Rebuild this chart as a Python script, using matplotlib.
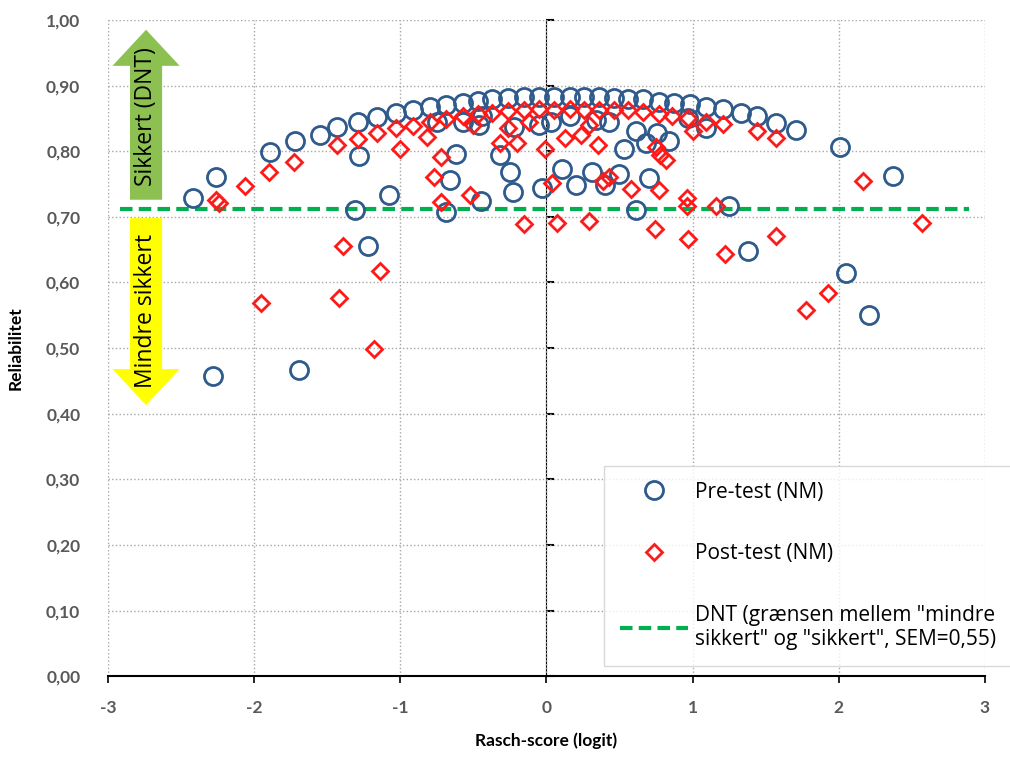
import matplotlib
matplotlib.use("Agg")
import matplotlib.pyplot as plt
import matplotlib.patches as patches
import numpy as np

# Pre-test (NM), blue circles
pre_x = [-1.89, -1.72, -1.55, -1.43, -1.29, -1.16, -1.03, -0.91, -0.80, -0.69, -0.57,
         -0.47, -0.37, -0.26, -0.15, -0.05, 0.05, 0.16, 0.26, 0.36, 0.46, 0.56, 0.66,
         0.77, 0.87, 0.98, 1.09, 1.21, 1.33, 1.44, 1.57, 1.71,
         -2.42, -2.26, -2.28, -1.69, -1.28, -1.31, -1.22, -1.08, -0.75, -0.62, -0.66,
         -0.69, -0.57, -0.46, -0.45, -0.44, -0.32, -0.25, -0.23, -0.22, -0.05, -0.03,
         0.03, 0.11, 0.16, 0.20, 0.31, 0.34, 0.43, 0.40, 0.50, 0.53, 0.61, 0.61, 0.68,
         0.70, 0.76, 0.84, 0.97, 1.09, 1.25, 1.38, 2.01, 2.37, 2.05, 2.21]
pre_y = [0.799, 0.815, 0.825, 0.837, 0.845, 0.852, 0.858, 0.863, 0.867, 0.870, 0.874,
         0.877, 0.879, 0.881, 0.882, 0.883, 0.883, 0.883, 0.883, 0.882, 0.881, 0.880, 0.879,
         0.875, 0.874, 0.872, 0.868, 0.864, 0.858, 0.853, 0.843, 0.833,
         0.728, 0.761, 0.457, 0.467, 0.792, 0.711, 0.655, 0.733, 0.845, 0.796, 0.756,
         0.708, 0.845, 0.840, 0.724, 0.853, 0.794, 0.769, 0.738, 0.837, 0.840, 0.744,
         0.845, 0.773, 0.853, 0.749, 0.769, 0.848, 0.845, 0.748, 0.765, 0.803, 0.830, 0.710, 0.812,
         0.759, 0.827, 0.815, 0.851, 0.835, 0.717, 0.648, 0.807, 0.762, 0.614, 0.550]

# Post-test (NM), red diamonds
post_x = [-1.43, -1.29, -1.16, -1.03, -0.91, -0.80, -0.69, -0.57, -0.47, -0.37, -0.26,
          -0.15, -0.05, 0.05, 0.16, 0.26, 0.36, 0.46, 0.56, 0.66, 0.77, 0.86, 0.97,
          1.09, 1.21, 1.44, 1.57,
          -2.26, -2.24, -2.06, -1.90, -1.73, -1.95, -1.39, -1.14, -1.42, -1.18, -1.00,
          -0.82, -0.72, -0.77, -0.72, -0.52, -0.50, -0.32, -0.20, -0.26, -0.12, -0.01,
          -0.15, 0.04, 0.07, 0.13, 0.24, 0.29, 0.35, 0.29, 0.39, 0.43, 0.58, 0.74, 0.75,
          0.78, 0.82, 0.77, 0.96, 0.96, 0.97, 1.00, 1.16, 1.22, 1.57, 1.78, 1.93, 2.17, 2.57]
post_y = [0.809, 0.819, 0.827, 0.835, 0.838, 0.845, 0.849, 0.853, 0.856, 0.858, 0.861,
          0.863, 0.864, 0.863, 0.864, 0.863, 0.863, 0.863, 0.862, 0.859, 0.857, 0.854, 0.850,
          0.845, 0.841, 0.830, 0.820,
          0.725, 0.721, 0.747, 0.769, 0.784, 0.568, 0.655, 0.618, 0.577, 0.498, 0.803,
          0.822, 0.791, 0.760, 0.722, 0.733, 0.840, 0.813, 0.812, 0.835, 0.845, 0.804,
          0.689, 0.751, 0.691, 0.820, 0.825, 0.840, 0.809, 0.694, 0.754, 0.761, 0.743, 0.681, 0.807,
          0.794, 0.787, 0.741, 0.729, 0.716, 0.666, 0.830, 0.716, 0.644, 0.671, 0.558, 0.584, 0.755, 0.690]

dnt_x = [-2.92, 2.89]
dnt_y = [0.712, 0.712]

x_ticks = [-3, -2, -1, 0, 1, 2, 3]
y_ticks = np.arange(0, 1.01, 0.1)
y_ticklabels = ["0,00", "0,10", "0,20", "0,30", "0,40", "0,50",
                "0,60", "0,70", "0,80", "0,90", "1,00"]

plt.rcParams["font.family"] = ["Lato", "DejaVu Sans"]
tick_color = "#595959"
body_font = ["Open Sans", "DejaVu Sans"]

fig = plt.figure(figsize=(10.1, 7.65), dpi=100)
ax = fig.add_axes([0.107, 0.116, 0.868, 0.858])

ax.set_xlim(-3, 3)
ax.set_ylim(0, 1)
ax.set_xticks(x_ticks)
ax.set_xticklabels([str(t) for t in x_ticks])
ax.set_yticks(y_ticks)
ax.set_yticklabels(y_ticklabels)
ax.grid(True, color="#a6a6a6", linestyle=":", lw=1)
ax.set_axisbelow(True)

for side in ["left", "top", "right"]:
    ax.spines[side].set_visible(False)
ax.spines["bottom"].set_color("black")
ax.spines["bottom"].set_linewidth(1.5)

ax.tick_params(axis="y", length=0, pad=20, labelsize=12.5, labelcolor=tick_color)
ax.tick_params(axis="x", length=5, width=1.2, pad=12, labelsize=12.5, labelcolor=tick_color)
for lab in ax.get_yticklabels() + ax.get_xticklabels():
    lab.set_fontweight("bold")

# vertical axis crossing at x = 0
sec = ax.secondary_yaxis(0.5)
sec.set_yticks(y_ticks)
sec.set_yticklabels([])
sec.spines["left"].set_linewidth(1.6)
sec.tick_params(axis="y", length=6, width=1.5, direction="out")

ax.set_ylabel("Reliabilitet", fontsize=12.5, fontweight="bold", labelpad=16)
ax.set_xlabel("Rasch-score (logit)", fontsize=12.5, fontweight="bold", labelpad=12)

# arrows
up = patches.FancyArrow(-2.74, 0.726, 0, 0.259, width=0.22, head_width=0.46,
                        head_length=0.055, length_includes_head=True,
                        color="#8cc152", lw=0, zorder=1)
down = patches.FancyArrow(-2.74, 0.698, 0, -0.285, width=0.22, head_width=0.46,
                          head_length=0.055, length_includes_head=True,
                          color="#ffff00", lw=0, zorder=1)
ax.add_patch(up)
ax.add_patch(down)
ax.text(-2.74, 0.852, "Sikkert (DNT)", rotation=90, ha="center", va="center",
        fontsize=16.5, family=body_font, zorder=2)
ax.text(-2.74, 0.556, "Mindre sikkert", rotation=90, ha="center", va="center",
        fontsize=16.5, family=body_font, zorder=2)

ax.plot(dnt_x, dnt_y, color="#00b050", lw=3, dashes=(3, 1.5), zorder=3,
        label='DNT (grænsen mellem "mindre\nsikkert" og "sikkert", SEM=0,55)')
ax.plot(pre_x, pre_y, "o", ms=13, mfc="none", mec="#2e5a8c", mew=2, zorder=4,
        label="Pre-test (NM)")
ax.plot(post_x, post_y, "D", ms=8, mfc="none", mec="#ff1a1a", mew=2, zorder=5,
        label="Post-test (NM)")

handles, labels = ax.get_legend_handles_labels()
order = [1, 2, 0]
leg = fig.legend([handles[i] for i in order], [labels[i] for i in order],
                 loc="upper left", bbox_to_anchor=(604 / 1010, 1 - 466 / 765),
                 frameon=True, fancybox=False, edgecolor="#d0d0d0",
                 labelspacing=1.95, handlelength=3.3,
                 handletextpad=0.3, borderpad=0.75, borderaxespad=0,
                 prop={"family": body_font, "size": 15})
leg.get_frame().set_linewidth(1)

fig.savefig("out.png", dpi=100, facecolor="white")
